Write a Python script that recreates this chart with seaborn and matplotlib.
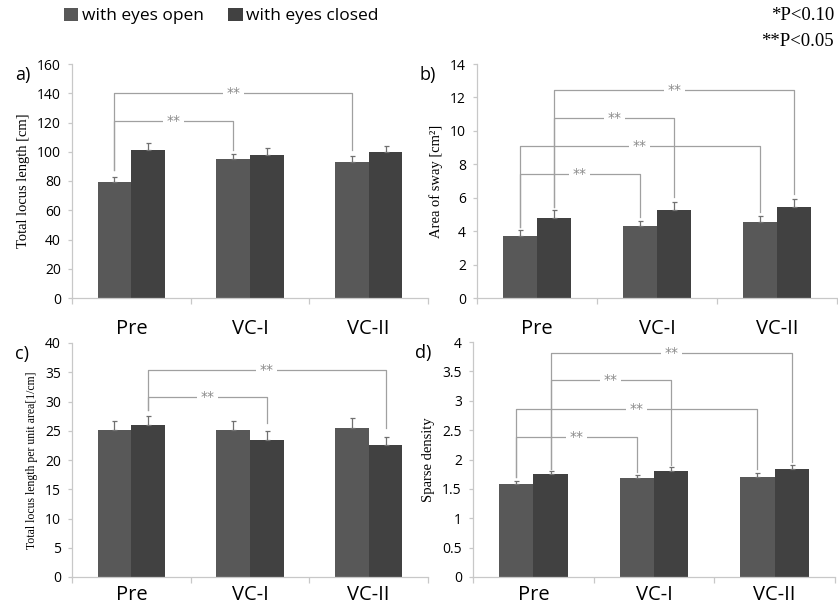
import matplotlib
matplotlib.use('Agg')
import matplotlib.pyplot as plt
import matplotlib.patches as mpatches
import numpy as np
import pandas as pd
import seaborn as sns

conditions = ['Pre', 'VC-I', 'VC-II']
eyes = ['with eyes open', 'with eyes closed']

# panel a) total locus length [cm]
locus_open = [79.4, 95.0, 93.1]
locus_closed = [100.9, 97.9, 99.5]
locus_open_err = [3.0, 3.8, 4.0]
locus_closed_err = [5.2, 4.6, 4.4]

# panel b) area of sway [cm2]
area_open = [3.73, 4.31, 4.55]
area_closed = [4.81, 5.29, 5.45]
area_open_err = [0.32, 0.28, 0.36]
area_closed_err = [0.44, 0.48, 0.48]

# panel c) total locus length per unit area [1/cm]
unit_open = [25.2, 25.2, 25.4]
unit_closed = [26.0, 23.4, 22.5]
unit_open_err = [1.5, 1.4, 1.8]
unit_closed_err = [1.6, 1.5, 1.5]

# panel d) sparse density
sparse_open = [1.59, 1.69, 1.71]
sparse_closed = [1.75, 1.80, 1.83]
sparse_open_err = [0.045, 0.045, 0.055]
sparse_closed_err = [0.06, 0.065, 0.07]

# significance brackets: (from hue, from cond, to hue, to cond, height, left drop, right drop)
brackets_a = [(0, 0, 0, 1, 121, 87.5, 101), (0, 0, 0, 2, 140, 87.5, 101)]
brackets_b = [(0, 0, 0, 1, 7.43, 4.25, 4.85), (0, 0, 0, 2, 9.09, 4.25, 5.15),
              (1, 0, 1, 1, 10.76, 5.45, 6.05), (1, 0, 1, 2, 12.42, 5.45, 6.2)]
brackets_c = [(1, 0, 1, 1, 30.8, 28.6, 26.3), (1, 0, 1, 2, 35.4, 28.6, 25.5)]
brackets_d = [(0, 0, 0, 1, 2.38, 1.70, 1.79), (0, 0, 0, 2, 2.86, 1.70, 1.83),
              (1, 0, 1, 1, 3.35, 1.83, 1.90), (1, 0, 1, 2, 3.81, 1.83, 1.95)]

colors = ['#585858', '#414141']
axis_gray = '#c8c8c8'
line_gray = '#a0a0a0'

fig = plt.figure(figsize=(8.38, 6.15), dpi=100)
W, H = 838, 615


def px_axes(l, t, r, b):
    return fig.add_axes([l / W, 1 - b / H, (r - l) / W, (b - t) / H])


def panel(ax, vo, vc, eo, ec, ymax, ystep, ylabel, ylabel_size, letter, brackets,
          yfmt, xpad):
    df = pd.DataFrame({
        'cond': conditions * 2,
        'eyes': [eyes[0]] * 3 + [eyes[1]] * 3,
        'value': list(vo) + list(vc),
    })
    sns.barplot(data=df, x='cond', y='value', hue='eyes', order=conditions,
                hue_order=eyes, palette=colors, width=0.57, gap=0,
                errorbar=None, saturation=1, linewidth=0, legend=False, ax=ax)
    centers = []
    for cont, err in zip(ax.containers, [eo, ec]):
        xs = [p.get_x() + p.get_width() / 2 for p in cont.patches]
        hs = [p.get_height() for p in cont.patches]
        centers.append(xs)
        ax.errorbar(xs, hs, yerr=[np.zeros(3), err], fmt='none',
                    ecolor='#707070', elinewidth=0.9, capsize=1.8, capthick=0.9)
    for h0, c0, h1, c1, y, d0, d1 in brackets:
        x0 = centers[h0][c0]
        x1 = centers[h1][c1]
        ax.plot([x0, x0, x1, x1], [d0, y, y, d1], color=line_gray, lw=0.9,
                zorder=3)
        ax.text((x0 + x1) / 2, y, '**', ha='center', va='center', fontsize=10,
                color='#8a8a8a', zorder=4,
                bbox=dict(facecolor='white', edgecolor='none', pad=2.5))
    ax.set_xlim(-0.5, 2.5)
    ax.set_ylim(0, ymax)
    ax.set_yticks(np.arange(0, ymax + ystep / 2, ystep))
    ax.yaxis.set_major_formatter(matplotlib.ticker.FuncFormatter(yfmt))
    ax.set_xticks([0, 1, 2])
    ax.set_xticklabels(conditions, fontsize=14.5, family='Open Sans')
    ax.set_xticks([-0.5, 0.5, 1.5, 2.5], minor=True)
    ax.tick_params(axis='x', which='major', length=0, pad=xpad)
    ax.tick_params(axis='x', which='minor', length=4, color=axis_gray, width=0.9)
    ax.tick_params(axis='y', length=3, color=axis_gray, width=0.9, labelsize=10,
                   pad=5)
    for lab in ax.get_yticklabels():
        lab.set_family('Open Sans')
    ax.set_xlabel('')
    ax.set_ylabel(ylabel, family='Liberation Serif', fontsize=ylabel_size, labelpad=5)
    for s in ['top', 'right']:
        ax.spines[s].set_visible(False)
    for s in ['left', 'bottom']:
        ax.spines[s].set_color(axis_gray)
        ax.spines[s].set_linewidth(0.9)
    ax.text(-0.16, 0.955, letter, transform=ax.transAxes, fontsize=13,
            family='Open Sans', va='center', ha='left')


def int_fmt(v, pos):
    return '%d' % v


def half_fmt(v, pos):
    return ('%d' % v) if v == int(v) else ('%.1f' % v)


ax_a = px_axes(72, 64, 428, 298)
panel(ax_a, locus_open, locus_closed, locus_open_err, locus_closed_err,
      160, 20, 'Total locus length [cm]', 10.5, 'a)', brackets_a, int_fmt, 15)

ax_b = px_axes(477, 64, 837, 298)
panel(ax_b, area_open, area_closed, area_open_err, area_closed_err,
      14, 2, 'Area of sway [cm²]', 10.5, 'b)', brackets_b, int_fmt, 15)

ax_c = px_axes(72, 343, 428, 577)
panel(ax_c, unit_open, unit_closed, unit_open_err, unit_closed_err,
      40, 5, 'Total locus length per unit area[1/cm]', 8.5, 'c)', brackets_c,
      int_fmt, 6)

ax_d = px_axes(473, 342, 835, 577)
panel(ax_d, sparse_open, sparse_closed, sparse_open_err, sparse_closed_err,
      4, 0.5, 'Sparse density', 10.5, 'd)', brackets_d, half_fmt, 6)

handles = [mpatches.Patch(facecolor=c, edgecolor='none', label=l)
           for c, l in zip(colors, eyes)]
fig.legend(handles=handles, loc='center left', bbox_to_anchor=(48 / W, 1 - 16 / H),
           ncol=2, frameon=False, handlelength=0.85, handleheight=0.85,
           handletextpad=0.2, columnspacing=1.4, prop={'family': 'Open Sans', 'size': 12.5})

fig.text(834 / W, 1 - 16 / H, '*P<0.10', ha='right', va='center', fontsize=13.5,
         family='Liberation Serif')
fig.text(834 / W, 1 - 42 / H, '**P<0.05', ha='right', va='center', fontsize=13.5,
         family='Liberation Serif')

fig.savefig('out.png', dpi=100)
